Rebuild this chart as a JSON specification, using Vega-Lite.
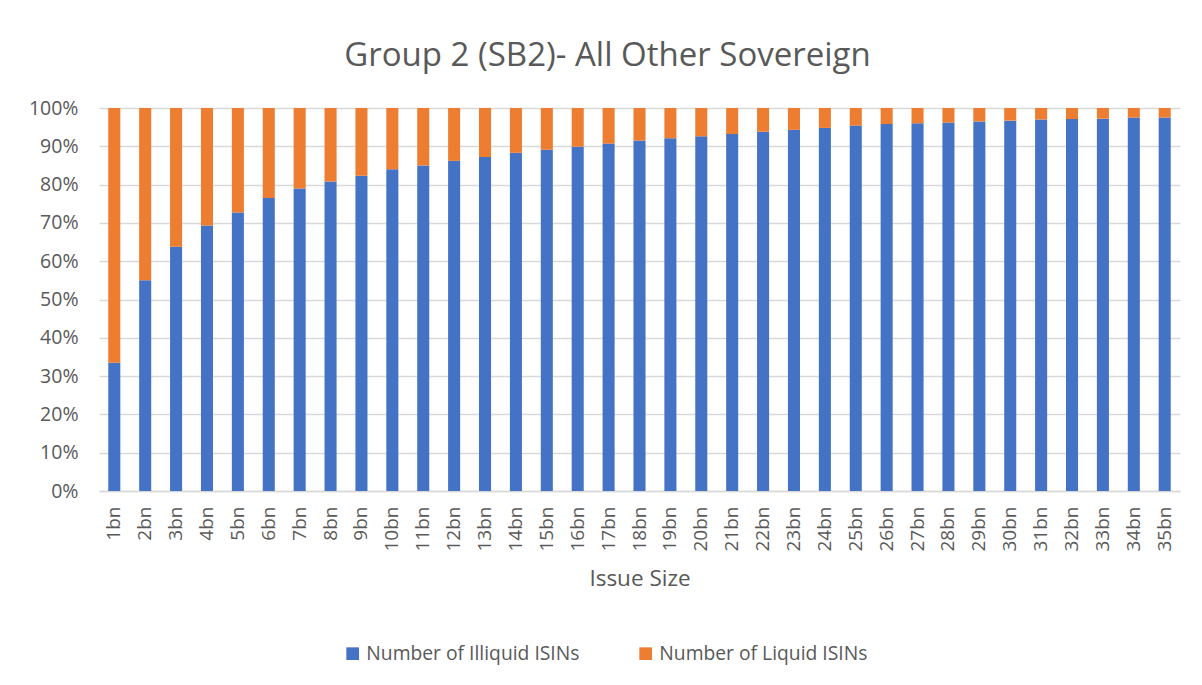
{
  "$schema": "https://vega.github.io/schema/vega-lite/v6.json",
  "width": 1081,
  "height": 383,
  "autosize": {"type": "none"},
  "padding": {"left": 99, "top": 108, "right": 22, "bottom": 194},
  "background": "white",
  "title": {
    "text": "Group 2 (SB2)- All Other Sovereign",
    "font": "Open Sans",
    "fontSize": 33,
    "fontWeight": "normal",
    "color": "#595959",
    "anchor": "middle",
    "dx": -32,
    "offset": 25
  },
  "config": {
    "view": {"stroke": null},
    "font": "Open Sans"
  },
  "data": {
    "values": [
      {"size": "1bn", "series": "Number of Illiquid ISINs", "value": 33.5},
      {"size": "2bn", "series": "Number of Illiquid ISINs", "value": 55.0},
      {"size": "3bn", "series": "Number of Illiquid ISINs", "value": 63.8},
      {"size": "4bn", "series": "Number of Illiquid ISINs", "value": 69.3},
      {"size": "5bn", "series": "Number of Illiquid ISINs", "value": 72.7},
      {"size": "6bn", "series": "Number of Illiquid ISINs", "value": 76.5},
      {"size": "7bn", "series": "Number of Illiquid ISINs", "value": 79.0},
      {"size": "8bn", "series": "Number of Illiquid ISINs", "value": 80.8},
      {"size": "9bn", "series": "Number of Illiquid ISINs", "value": 82.3},
      {"size": "10bn", "series": "Number of Illiquid ISINs", "value": 84.0},
      {"size": "11bn", "series": "Number of Illiquid ISINs", "value": 85.0},
      {"size": "12bn", "series": "Number of Illiquid ISINs", "value": 86.2},
      {"size": "13bn", "series": "Number of Illiquid ISINs", "value": 87.2},
      {"size": "14bn", "series": "Number of Illiquid ISINs", "value": 88.3},
      {"size": "15bn", "series": "Number of Illiquid ISINs", "value": 89.1},
      {"size": "16bn", "series": "Number of Illiquid ISINs", "value": 89.9},
      {"size": "17bn", "series": "Number of Illiquid ISINs", "value": 90.7},
      {"size": "18bn", "series": "Number of Illiquid ISINs", "value": 91.5},
      {"size": "19bn", "series": "Number of Illiquid ISINs", "value": 92.1},
      {"size": "20bn", "series": "Number of Illiquid ISINs", "value": 92.6},
      {"size": "21bn", "series": "Number of Illiquid ISINs", "value": 93.2},
      {"size": "22bn", "series": "Number of Illiquid ISINs", "value": 93.8},
      {"size": "23bn", "series": "Number of Illiquid ISINs", "value": 94.3},
      {"size": "24bn", "series": "Number of Illiquid ISINs", "value": 94.8},
      {"size": "25bn", "series": "Number of Illiquid ISINs", "value": 95.4},
      {"size": "26bn", "series": "Number of Illiquid ISINs", "value": 95.8},
      {"size": "27bn", "series": "Number of Illiquid ISINs", "value": 96.0},
      {"size": "28bn", "series": "Number of Illiquid ISINs", "value": 96.2},
      {"size": "29bn", "series": "Number of Illiquid ISINs", "value": 96.5},
      {"size": "30bn", "series": "Number of Illiquid ISINs", "value": 96.7},
      {"size": "31bn", "series": "Number of Illiquid ISINs", "value": 97.0},
      {"size": "32bn", "series": "Number of Illiquid ISINs", "value": 97.1},
      {"size": "33bn", "series": "Number of Illiquid ISINs", "value": 97.2},
      {"size": "34bn", "series": "Number of Illiquid ISINs", "value": 97.5},
      {"size": "35bn", "series": "Number of Illiquid ISINs", "value": 97.5},
      {"size": "1bn", "series": "Number of Liquid ISINs", "value": 66.5},
      {"size": "2bn", "series": "Number of Liquid ISINs", "value": 45.0},
      {"size": "3bn", "series": "Number of Liquid ISINs", "value": 36.2},
      {"size": "4bn", "series": "Number of Liquid ISINs", "value": 30.7},
      {"size": "5bn", "series": "Number of Liquid ISINs", "value": 27.3},
      {"size": "6bn", "series": "Number of Liquid ISINs", "value": 23.5},
      {"size": "7bn", "series": "Number of Liquid ISINs", "value": 21.0},
      {"size": "8bn", "series": "Number of Liquid ISINs", "value": 19.2},
      {"size": "9bn", "series": "Number of Liquid ISINs", "value": 17.7},
      {"size": "10bn", "series": "Number of Liquid ISINs", "value": 16.0},
      {"size": "11bn", "series": "Number of Liquid ISINs", "value": 15.0},
      {"size": "12bn", "series": "Number of Liquid ISINs", "value": 13.8},
      {"size": "13bn", "series": "Number of Liquid ISINs", "value": 12.8},
      {"size": "14bn", "series": "Number of Liquid ISINs", "value": 11.7},
      {"size": "15bn", "series": "Number of Liquid ISINs", "value": 10.9},
      {"size": "16bn", "series": "Number of Liquid ISINs", "value": 10.1},
      {"size": "17bn", "series": "Number of Liquid ISINs", "value": 9.3},
      {"size": "18bn", "series": "Number of Liquid ISINs", "value": 8.5},
      {"size": "19bn", "series": "Number of Liquid ISINs", "value": 7.9},
      {"size": "20bn", "series": "Number of Liquid ISINs", "value": 7.4},
      {"size": "21bn", "series": "Number of Liquid ISINs", "value": 6.8},
      {"size": "22bn", "series": "Number of Liquid ISINs", "value": 6.2},
      {"size": "23bn", "series": "Number of Liquid ISINs", "value": 5.7},
      {"size": "24bn", "series": "Number of Liquid ISINs", "value": 5.2},
      {"size": "25bn", "series": "Number of Liquid ISINs", "value": 4.6},
      {"size": "26bn", "series": "Number of Liquid ISINs", "value": 4.2},
      {"size": "27bn", "series": "Number of Liquid ISINs", "value": 4.0},
      {"size": "28bn", "series": "Number of Liquid ISINs", "value": 3.8},
      {"size": "29bn", "series": "Number of Liquid ISINs", "value": 3.5},
      {"size": "30bn", "series": "Number of Liquid ISINs", "value": 3.3},
      {"size": "31bn", "series": "Number of Liquid ISINs", "value": 3.0},
      {"size": "32bn", "series": "Number of Liquid ISINs", "value": 2.9},
      {"size": "33bn", "series": "Number of Liquid ISINs", "value": 2.8},
      {"size": "34bn", "series": "Number of Liquid ISINs", "value": 2.5},
      {"size": "35bn", "series": "Number of Liquid ISINs", "value": 2.5}
    ]
  },
  "mark": {"type": "bar"},
  "encoding": {
    "x": {
      "field": "size",
      "type": "nominal",
      "sort": null,
      "scale": {"paddingInner": 0.61, "paddingOuter": 0.3},
      "axis": {
        "title": "Issue Size",
        "titleFont": "Open Sans",
        "titleFontSize": 22.5,
        "titleFontWeight": "normal",
        "titleColor": "#595959",
        "titlePadding": 16,
        "labelAngle": -90,
        "labelFont": "Open Sans",
        "labelFontSize": 19,
        "labelColor": "#595959",
        "labelPadding": 15,
        "ticks": false,
        "domainColor": "#d9d9d9",
        "domainWidth": 1.5
      }
    },
    "y": {
      "field": "value",
      "type": "quantitative",
      "stack": "zero",
      "scale": {"domain": [0, 100], "nice": false},
      "axis": {
        "title": null,
        "values": [0, 10, 20, 30, 40, 50, 60, 70, 80, 90, 100],
        "labelExpr": "datum.value + '%'",
        "labelFont": "Open Sans",
        "labelFontSize": 19.5,
        "labelColor": "#595959",
        "labelPadding": 21,
        "ticks": false,
        "domain": false,
        "gridColor": "#d9d9d9",
        "gridWidth": 1.5
      }
    },
    "color": {
      "field": "series",
      "type": "nominal",
      "scale": {
        "domain": ["Number of Illiquid ISINs", "Number of Liquid ISINs"],
        "range": ["#4472C4", "#ED7D31"]
      },
      "legend": {
        "title": null,
        "orient": "none",
        "legendX": 244,
        "legendY": 536,
        "direction": "horizontal",
        "symbolType": "square",
        "symbolSize": 160,
        "symbolStrokeWidth": 0,
        "labelFont": "Open Sans",
        "labelFontSize": 19.3,
        "labelColor": "#595959",
        "labelLimit": 0,
        "columnPadding": 56
      }
    },
    "order": {"field": "series", "sort": "ascending"}
  }
}
